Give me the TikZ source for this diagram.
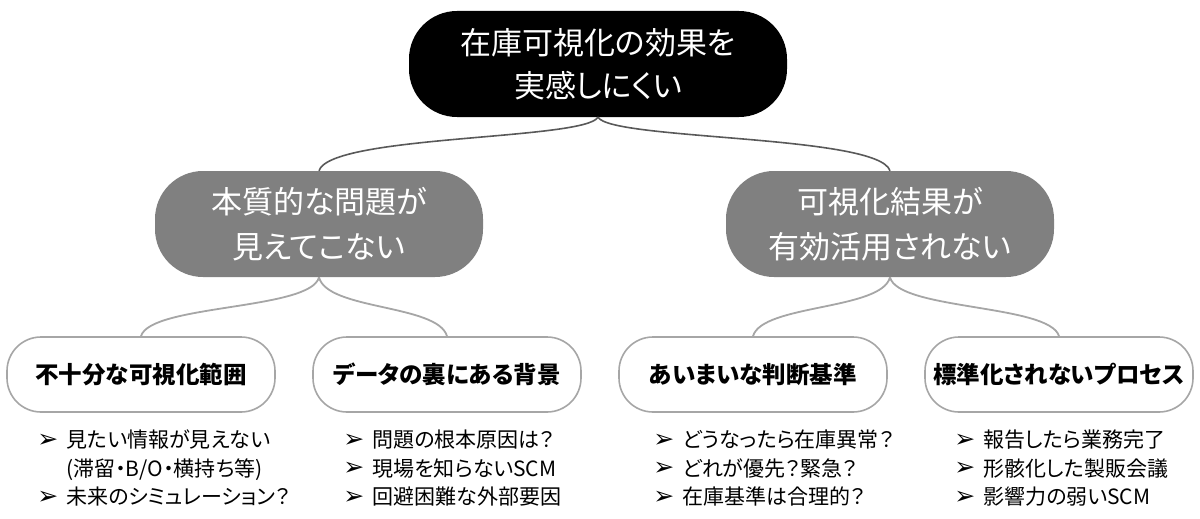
\documentclass[tikz,border=0pt]{standalone}
\usepackage{fontspec}
\newfontfamily\jpfont{Noto Sans CJK JP}[RawFeature=+palt]
\newfontfamily\symfont{DejaVu Sans}
\newcommand\pointer{\makebox[29pt][l]{\raisebox{0.5pt}{\symfont\fontsize{25pt}{25pt}\selectfont ➢}}}

\begin{document}
\begin{tikzpicture}[x=1pt,y=-1pt,
		root/.style={fill=black,text=white,rounded corners=48pt,minimum width=378pt,minimum height=106pt,inner sep=0pt,align=center,font=\jpfont\fontsize{31pt}{43pt}\selectfont},
		branch/.style={fill=black!50,text=white,rounded corners=48pt,minimum width=328pt,minimum height=106pt,inner sep=0pt,align=center,font=\jpfont\fontsize{31pt}{45pt}\selectfont},
		leaf/.style={draw=black!35,line width=1.6pt,fill=white,rounded corners=34pt,minimum width=268pt,minimum height=75pt,inner sep=0pt,font=\jpfont\bfseries\fontsize{23.5pt}{28pt}\selectfont},
		notes/.style={anchor=north west,inner sep=0pt,align=left,font=\jpfont\fontsize{21pt}{28.5pt}\selectfont},
		trunk/.style={draw=black!65,line width=1.6pt},
		twig/.style={draw=black!35,line width=1.8pt}]
			\useasboundingbox (0,0) rectangle (1200,519);
			\node[root] (top) at (598,64) {在庫可視化の効果を\\実感しにくい};
			\node[branch] (midl) at (319,224) {本質的な問題が\\見えてこない};
			\node[branch] (midr) at (890,224) {可視化結果が\\有効活用されない};
			\node[leaf] (scope) at (141,374.5) {不十分な可視化範囲};
			\node[leaf] (data) at (447,374.5) {データの裏にある背景};
			\node[leaf] (rule) at (753,374.5) {あいまいな判断基準};
			\node[leaf] (proc) at (1059,374.5) {標準化されないプロセス};
			\draw[trunk] (top.south) .. controls +(-13,23) and +(11,-36) .. (midl.north);
			\draw[trunk] (top.south) .. controls +(13,23) and +(-11,-36) .. (midr.north);
			\draw[twig] (midl.south) .. controls +(-8,33) and +(9,-32) .. (scope.north);
			\draw[twig] (midl.south) .. controls +(8,33) and +(-9,-32) .. (data.north);
			\draw[twig] (midr.south) .. controls +(-8,33) and +(9,-32) .. (rule.north);
			\draw[twig] (midr.south) .. controls +(8,33) and +(-9,-32) .. (proc.north);
			\node[notes] (scopenotes) at ([xshift=31pt,yshift=-17pt]scope.south west) {\pointer 見たい情報が見えない\\\hspace*{29pt}(滞留・B/O・横持ち等)\\\pointer 未来のシミュレーション？};
			\node[notes] (datanotes) at ([xshift=31pt,yshift=-17pt]data.south west) {\pointer 問題の根本原因は？\\\pointer 現場を知らないSCM\\\pointer 回避困難な外部要因};
			\node[notes] (rulenotes) at ([xshift=35pt,yshift=-17pt]rule.south west) {\pointer どうなったら在庫異常？\\\pointer どれが優先？緊急？\\\pointer 在庫基準は合理的？};
			\node[notes] (procnotes) at ([xshift=30pt,yshift=-17pt]proc.south west) {\pointer 報告したら業務完了\\\pointer 形骸化した製販会議\\\pointer 影響力の弱いSCM};
		\end{tikzpicture}
\end{document}
